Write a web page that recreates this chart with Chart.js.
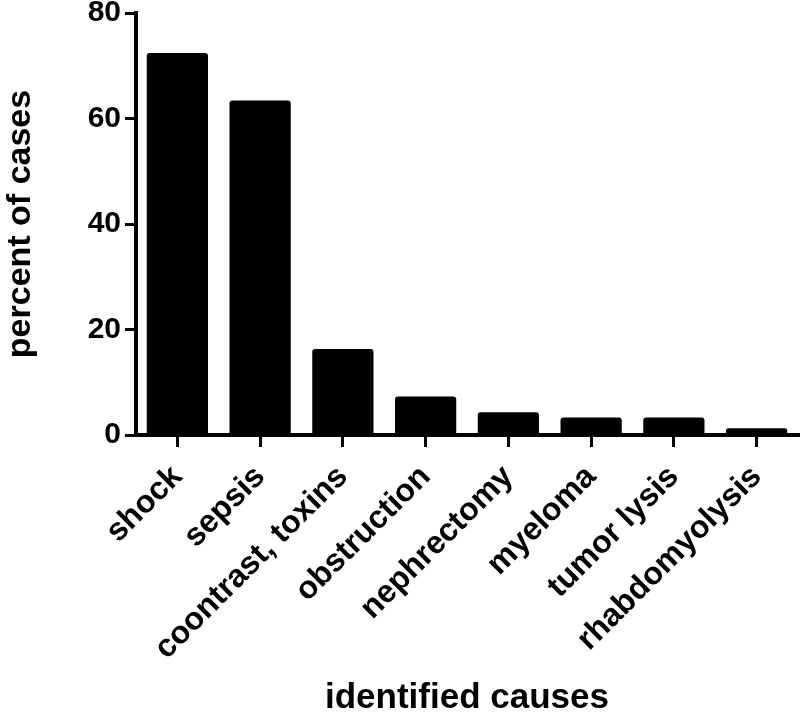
<!DOCTYPE html>
<html>
<head>
<meta charset="utf-8">
<script src="https://cdn.jsdelivr.net/npm/chart.js@4"></script>
<style>
  html, body { margin: 0; padding: 0; background: #fff; }
  #wrap { width: 800px; height: 712px; }
</style>
</head>
<body>
<div id="wrap"><canvas id="myChart" width="800" height="712"></canvas></div>
<script>
// categorias y valores
const causas = ['shock', 'sepsis', 'coontrast, toxins', 'obstruction', 'nephrectomy', 'myeloma', 'tumor lysis', 'rhabdomyolysis'];
const porcentajes = [72.4, 63.4, 16.3, 7.3, 4.3, 3.3, 3.3, 1.3];
const yTicks = [0, 20, 40, 60, 80];

const fuente = 'Liberation Sans, Arial, Helvetica, sans-serif';

const ctx = document.getElementById('myChart');

new Chart(ctx, {
  type: 'bar',
  data: {
    labels: causas,
    datasets: [{
      data: porcentajes,
      backgroundColor: '#000',
      borderWidth: 0,
      borderRadius: 3,
      borderSkipped: 'bottom',
      barPercentage: 0.74,
      categoryPercentage: 1
    }]
  },
  options: {
    responsive: false,
    animation: false,
    devicePixelRatio: 1,
    layout: { padding: { top: 8, right: 2, bottom: 0, left: 0 } },
    plugins: {
      legend: { display: false },
      tooltip: { enabled: false }
    },
    scales: {
      x: {
        grid: {
          drawOnChartArea: false,
          drawTicks: true,
          offset: false,
          tickLength: 12,
          lineWidth: 3,
          color: '#000'
        },
        border: { display: true, color: '#000', width: 4 },
        ticks: {
          color: '#000',
          autoSkip: false,
          minRotation: 45,
          maxRotation: 45,
          padding: 11,
          font: { family: fuente, size: 32, weight: 'bold' }
        },
        title: {
          display: true,
          text: 'identified causes',
          color: '#000',
          padding: { top: 0, bottom: 0 },
          font: { family: fuente, size: 35, weight: 'bold', lineHeight: 0.8 }
        },
        afterFit: (scale) => { scale.height = 277; }
      },
      y: {
        min: 0,
        max: 80,
        afterBuildTicks: (scale) => { scale.ticks = yTicks.map(v => ({ value: v })); },
        grid: {
          drawOnChartArea: false,
          drawTicks: true,
          tickLength: 11,
          lineWidth: 3,
          color: '#000'
        },
        border: { display: true, color: '#000', width: 4 },
        ticks: {
          color: '#000',
          padding: 4,
          font: { family: fuente, size: 30, weight: 'bold', lineHeight: 0.6 }
        },
        title: {
          display: true,
          text: 'percent of cases',
          color: '#000',
          padding: { top: 0, bottom: 0 },
          font: { family: fuente, size: 34, weight: 'bold', lineHeight: 1.2 }
        },
        afterFit: (scale) => { scale.width = 136; }
      }
    }
  }
});
</script>
</body>
</html>
